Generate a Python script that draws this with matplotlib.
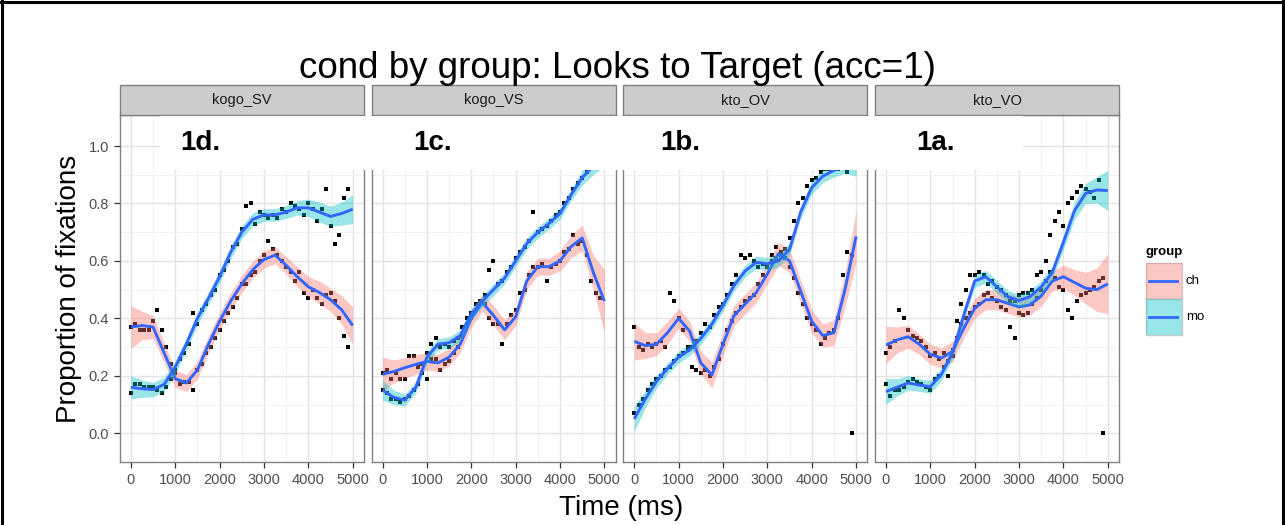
import matplotlib
matplotlib.use("Agg")
import matplotlib.pyplot as plt
from matplotlib.patches import Rectangle
from matplotlib.lines import Line2D
import numpy as np

plt.rcParams['font.family'] = ['Liberation Sans', 'DejaVu Sans']

# ---------------- data ----------------
TITLE = "cond by group: Looks to Target (acc=1)"
CONDS = ["kogo_SV", "kogo_VS", "kto_OV", "kto_VO"]
PANEL_TAGS = ["1d.", "1c.", "1b.", "1a."]
GROUPS = ["ch", "mo"]
X_TICKS = [0, 1000, 2000, 3000, 4000, 5000]
Y_TICKS = [0.0, 0.2, 0.4, 0.6, 0.8, 1.0]
T_FIT = [0, 250, 500, 750, 1000, 1250, 1500, 1750, 2000, 2250, 2500,
         2750, 3000, 3250, 3500, 3750, 4000, 4250, 4500, 4750, 5000]
T_PTS = list(range(0, 4901, 100))

# kogo_SV
CH_SV_FIT = [0.37, 0.375, 0.37, 0.28, 0.19, 0.175, 0.22, 0.31, 0.39, 0.46, 0.52,
             0.57, 0.605, 0.62, 0.585, 0.545, 0.51, 0.49, 0.465, 0.43, 0.375]
CH_SV_SE = [0.075, 0.05, 0.04, 0.035, 0.03, 0.03, 0.03, 0.03, 0.03, 0.03, 0.03,
            0.03, 0.03, 0.03, 0.03, 0.035, 0.035, 0.04, 0.04, 0.05, 0.065]
MO_SV_FIT = [0.16, 0.155, 0.152, 0.17, 0.23, 0.31, 0.40, 0.47, 0.545, 0.63, 0.70,
             0.745, 0.76, 0.76, 0.77, 0.785, 0.785, 0.77, 0.755, 0.765, 0.78]
MO_SV_SE = [0.04, 0.03, 0.025, 0.025, 0.022, 0.022, 0.022, 0.022, 0.022, 0.022, 0.022,
            0.022, 0.022, 0.022, 0.022, 0.025, 0.03, 0.035, 0.035, 0.04, 0.05]
CH_SV_PTS = [0.37, 0.38, 0.36, 0.36, 0.36, 0.39, 0.43, 0.36, 0.30, 0.24,
             0.21, 0.17, 0.18, 0.18, 0.15, 0.22, 0.24, 0.28, 0.30, 0.33,
             0.36, 0.39, 0.42, 0.44, 0.47, 0.52, 0.52, 0.55, 0.56, 0.60,
             0.62, 0.67, 0.64, 0.62, 0.60, 0.58, 0.56, 0.53, 0.56, 0.49,
             0.47, 0.50, 0.47, 0.45, 0.48, 0.49, 0.46, 0.40, 0.34, 0.30]
MO_SV_PTS = [0.14, 0.17, 0.17, 0.16, 0.16, 0.16, 0.15, 0.14, 0.16, 0.19,
             0.22, 0.26, 0.28, 0.31, 0.42, 0.38, 0.43, 0.45, 0.48, 0.50,
             0.55, 0.57, 0.60, 0.65, 0.66, 0.71, 0.79, 0.80, 0.73, 0.77,
             0.76, 0.75, 0.76, 0.75, 0.78, 0.77, 0.80, 0.79, 0.78, 0.76,
             0.80, 0.78, 0.74, 0.78, 0.85, 0.72, 0.66, 0.69, 0.82, 0.85]

# kogo_VS
CH_VS_FIT = [0.205, 0.215, 0.228, 0.24, 0.25, 0.245, 0.265, 0.31, 0.40, 0.455, 0.41,
             0.36, 0.405, 0.53, 0.58, 0.58, 0.60, 0.65, 0.68, 0.56, 0.46]
CH_VS_SE = [0.06, 0.04, 0.035, 0.035, 0.03, 0.03, 0.03, 0.03, 0.03, 0.03, 0.035,
            0.035, 0.03, 0.03, 0.03, 0.03, 0.035, 0.04, 0.045, 0.06, 0.11]
MO_VS_FIT = [0.15, 0.125, 0.115, 0.16, 0.265, 0.31, 0.315, 0.34, 0.415, 0.46, 0.50,
             0.54, 0.60, 0.66, 0.70, 0.73, 0.765, 0.83, 0.89, 0.93, 0.97]
MO_VS_SE = [0.035, 0.025, 0.02, 0.02, 0.02, 0.02, 0.02, 0.02, 0.02, 0.02, 0.02,
            0.02, 0.02, 0.02, 0.02, 0.02, 0.02, 0.02, 0.025, 0.03, 0.04]
CH_VS_PTS = [0.21, 0.22, 0.19, 0.21, 0.19, 0.19, 0.27, 0.27, 0.23, 0.24,
             0.19, 0.26, 0.26, 0.22, 0.24, 0.25, 0.28, 0.30, 0.34, 0.38,
             0.40, 0.43, 0.46, 0.45, 0.40, 0.38, 0.38, 0.31, 0.38, 0.41,
             0.43, 0.49, 0.50, 0.55, 0.58, 0.58, 0.59, 0.53, 0.58, 0.59,
             0.60, 0.63, 0.64, 0.69, 0.66, 0.67, 0.62, 0.53, 0.49, 0.47]
MO_VS_PTS = [0.15, 0.14, 0.12, 0.12, 0.11, 0.12, 0.13, 0.15, 0.17, 0.21,
             0.28, 0.31, 0.33, 0.30, 0.31, 0.30, 0.32, 0.33, 0.37, 0.40,
             0.42, 0.45, 0.46, 0.48, 0.57, 0.60, 0.52, 0.53, 0.56, 0.58,
             0.61, 0.63, 0.65, 0.67, 0.77, 0.70, 0.71, 0.72, 0.74, 0.76,
             0.77, 0.80, 0.82, 0.85, 0.87, 0.89, 0.91, 0.93, 0.95, 0.96]

# kto_OV
CH_OV_FIT = [0.32, 0.305, 0.31, 0.35, 0.40, 0.355, 0.245, 0.203, 0.31, 0.41, 0.45,
             0.49, 0.555, 0.625, 0.60, 0.495, 0.39, 0.34, 0.35, 0.50, 0.685]
CH_OV_SE = [0.065, 0.045, 0.04, 0.04, 0.035, 0.035, 0.04, 0.045, 0.04, 0.035, 0.035,
            0.035, 0.035, 0.04, 0.04, 0.04, 0.04, 0.04, 0.045, 0.06, 0.09]
MO_OV_FIT = [0.05, 0.12, 0.18, 0.225, 0.265, 0.29, 0.33, 0.38, 0.445, 0.515, 0.565,
             0.595, 0.59, 0.60, 0.64, 0.77, 0.855, 0.895, 0.915, 0.93, 0.93]
MO_OV_SE = [0.045, 0.03, 0.022, 0.02, 0.02, 0.02, 0.02, 0.02, 0.02, 0.02, 0.02,
            0.022, 0.022, 0.022, 0.022, 0.022, 0.022, 0.022, 0.022, 0.025, 0.035]
CH_OV_PTS = [0.37, 0.30, 0.29, 0.31, 0.30, 0.31, 0.32, 0.30, 0.49, 0.46,
             0.40, 0.36, 0.30, 0.23, 0.22, 0.21, 0.22, 0.20, 0.23, 0.26,
             0.31, 0.36, 0.39, 0.42, 0.44, 0.46, 0.47, 0.48, 0.52, 0.55,
             0.58, 0.62, 0.65, 0.63, 0.61, 0.58, 0.54, 0.49, 0.45, 0.40,
             0.38, 0.36, 0.31, 0.33, 0.35, 0.36, 0.40, 0.55, 0.63, 0.62]
MO_OV_PTS = [0.07, 0.10, 0.12, 0.15, 0.17, 0.19, 0.20, 0.22, 0.23, 0.25,
             0.27, 0.28, 0.29, 0.30, 0.32, 0.35, 0.38, 0.37, 0.41, 0.44,
             0.45, 0.48, 0.52, 0.55, 0.62, 0.61, 0.62, 0.60, 0.58, 0.59,
             0.58, 0.60, 0.61, 0.62, 0.64, 0.68, 0.74, 0.80, 0.82, 0.86,
             0.88, 0.89, 0.91, 0.92, 0.92, 0.93, 0.92, 0.93, 0.91, 0.00]

# kto_VO
CH_VO_FIT = [0.307, 0.325, 0.336, 0.31, 0.275, 0.262, 0.285, 0.365, 0.435, 0.465, 0.465,
             0.452, 0.44, 0.447, 0.478, 0.53, 0.545, 0.525, 0.505, 0.50, 0.52]
CH_VO_SE = [0.065, 0.045, 0.04, 0.035, 0.035, 0.035, 0.035, 0.035, 0.035, 0.035, 0.035,
            0.035, 0.035, 0.035, 0.035, 0.035, 0.04, 0.045, 0.055, 0.075, 0.105]
MO_VO_FIT = [0.145, 0.16, 0.175, 0.168, 0.162, 0.205, 0.28, 0.41, 0.53, 0.545, 0.51,
             0.475, 0.462, 0.476, 0.51, 0.56, 0.665, 0.775, 0.835, 0.847, 0.845]
MO_VO_SE = [0.045, 0.03, 0.025, 0.022, 0.022, 0.022, 0.022, 0.022, 0.022, 0.022, 0.022,
            0.022, 0.022, 0.022, 0.022, 0.022, 0.025, 0.03, 0.035, 0.045, 0.07]
CH_VO_PTS = [0.28, 0.30, 0.32, 0.43, 0.40, 0.36, 0.34, 0.33, 0.32, 0.30,
             0.27, 0.28, 0.26, 0.28, 0.20, 0.27, 0.33, 0.38, 0.40, 0.42,
             0.44, 0.45, 0.48, 0.49, 0.47, 0.46, 0.44, 0.43, 0.37, 0.33,
             0.42, 0.41, 0.42, 0.45, 0.47, 0.50, 0.53, 0.56, 0.54, 0.51,
             0.50, 0.43, 0.40, 0.46, 0.48, 0.49, 0.50, 0.51, 0.53, 0.54]
MO_VO_PTS = [0.17, 0.13, 0.15, 0.15, 0.16, 0.18, 0.19, 0.18, 0.17, 0.16,
             0.15, 0.19, 0.20, 0.23, 0.25, 0.29, 0.39, 0.45, 0.50, 0.55,
             0.55, 0.56, 0.55, 0.52, 0.53, 0.51, 0.50, 0.48, 0.46, 0.46,
             0.48, 0.49, 0.49, 0.50, 0.55, 0.56, 0.60, 0.69, 0.74, 0.77,
             0.72, 0.80, 0.82, 0.84, 0.86, 0.85, 0.84, 0.82, 0.88, 0.00]

PANELS = [
    {"ch": (CH_SV_FIT, CH_SV_SE, CH_SV_PTS), "mo": (MO_SV_FIT, MO_SV_SE, MO_SV_PTS)},
    {"ch": (CH_VS_FIT, CH_VS_SE, CH_VS_PTS), "mo": (MO_VS_FIT, MO_VS_SE, MO_VS_PTS)},
    {"ch": (CH_OV_FIT, CH_OV_SE, CH_OV_PTS), "mo": (MO_OV_FIT, MO_OV_SE, MO_OV_PTS)},
    {"ch": (CH_VO_FIT, CH_VO_SE, CH_VO_PTS), "mo": (MO_VO_FIT, MO_VO_SE, MO_VO_PTS)},
]

# ---------------- style ----------------
FILL = {"ch": "#F8766D", "mo": "#00BFC4"}
LINE_COLOR = "#3366FF"
W, H = 1285, 525

def fx(px):
    return px / W

def fy(py):
    return 1 - py / H

fig = plt.figure(figsize=(W / 100, H / 100), dpi=100)
fig.patch.set_facecolor("white")

panel_left0 = 120
panel_w = 244
panel_step = 251.7
panel_top = 115
panel_bot = 461.7
strip_top = 85

for i, cond in enumerate(CONDS):
    left = panel_left0 + i * panel_step
    ax = fig.add_axes([fx(left), fy(panel_bot), panel_w / W, (panel_bot - panel_top) / H])
    ax.set_xlim(-245, 5255)
    ax.set_ylim(-0.099, 1.108)
    ax.set_xticks(X_TICKS)
    ax.set_xticks([500, 1500, 2500, 3500, 4500], minor=True)
    ax.set_yticks(Y_TICKS)
    ax.set_yticks([0.1, 0.3, 0.5, 0.7, 0.9], minor=True)
    ax.set_xticklabels([str(t) for t in X_TICKS])
    ax.grid(which="major", color="#E3E3E3", lw=1.0)
    ax.grid(which="minor", color="#F1F1F1", lw=0.7)
    ax.set_axisbelow(True)
    for s in ax.spines.values():
        s.set_color("#808080")
        s.set_linewidth(1.0)
    ax.tick_params(which="major", direction="out", length=4.5, width=0.9,
                   color="#333333", labelsize=10.5, labelcolor="#4D4D4D", pad=3.5)
    ax.tick_params(which="minor", length=0)
    if i == 0:
        ax.set_yticklabels([f"{v:.1f}" for v in Y_TICKS])
    else:
        ax.tick_params(axis="y", which="both", left=False, labelleft=False)

    data = PANELS[i]
    for g in GROUPS:
        ax.plot(T_PTS, data[g][2], "s", ms=2.8, color="black", mew=0, zorder=2)
    z = 3
    for g in GROUPS:
        fit, se, _ = data[g]
        fit = np.asarray(fit)
        se = np.asarray(se)
        ax.fill_between(T_FIT, fit - se, fit + se, color=FILL[g], alpha=0.4, lw=0, zorder=z)
        ax.plot(T_FIT, fit, color=LINE_COLOR, lw=2.1, zorder=z + 1,
                solid_joinstyle="round", solid_capstyle="butt")
        z += 2

    # strip
    fig.patches.append(Rectangle((fx(left), fy(panel_top)), panel_w / W,
                                 (panel_top - strip_top) / H, transform=fig.transFigure,
                                 facecolor="#CCCCCC", edgecolor="#808080", lw=1.0, zorder=2))
    fig.text(fx(left + panel_w / 2), fy((strip_top + panel_top) / 2), cond,
             ha="center", va="center", fontsize=10.5, color="#1A1A1A", zorder=3)

# white box covering top of panels with panel tags
fig.patches.append(Rectangle((fx(160), fy(170)), (1023 - 160) / W, (170 - 115.5) / H,
                             transform=fig.transFigure, facecolor="white",
                             edgecolor="none", zorder=10))
TAG_X = [200, 432.5, 680, 936]
for tag, x in zip(PANEL_TAGS, TAG_X):
    fig.text(fx(x), fy(143), tag, ha="center", va="center", fontsize=20,
             fontweight="bold", color="black", zorder=11)

# titles
fig.text(fx(617.5), fy(78), TITLE, ha="center", va="baseline", fontsize=26.5, color="black")
fig.text(fx(69), fy(289), "Proportion of fixations", rotation=90, ha="center",
         va="center", fontsize=20, color="black")
fig.text(fx(621), fy(508), "Time (ms)", ha="center", va="center", fontsize=20, color="black")

# legend
fig.text(fx(1146), fy(252), "group", ha="left", va="center", fontsize=9.5,
         fontweight="bold", color="black")
for k, g in enumerate(GROUPS):
    ytop = 263.3 + k * 36
    fig.patches.append(Rectangle((fx(1146), fy(ytop + 36)), 36 / W, 36 / H,
                                 transform=fig.transFigure, facecolor="white",
                                 edgecolor="#CCCCCC", lw=1.0, zorder=2))
    fig.patches.append(Rectangle((fx(1146), fy(ytop + 36)), 36 / W, 36 / H,
                                 transform=fig.transFigure, facecolor=FILL[g],
                                 alpha=0.4, edgecolor="none", zorder=3))
    fig.lines.append(Line2D([fx(1149), fx(1177)], [fy(ytop + 18)] * 2,
                            transform=fig.transFigure, color=LINE_COLOR, lw=2.0, zorder=4))
    fig.text(fx(1186), fy(ytop + 18), g, ha="left", va="center", fontsize=9.5, color="black")

# outer frame of the screenshot
for xs, ys in [([0, 1], [fy(1.5)] * 2), ([fx(1.5)] * 2, [0, 1]), ([fx(1282.5)] * 2, [0, 1])]:
    fig.lines.append(Line2D(xs, ys, transform=fig.transFigure, color="black", lw=2.2, zorder=20))

fig.savefig("out.png", dpi=100, facecolor="white")
